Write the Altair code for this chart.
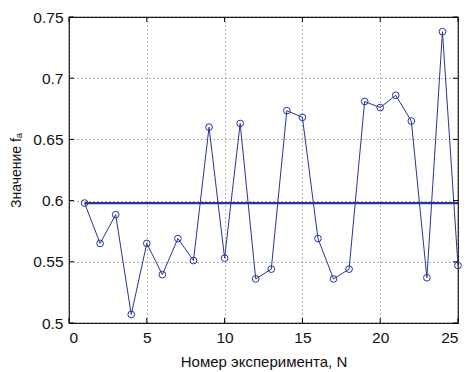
import altair as alt
import pandas as pd

n = list(range(1, 26))
fa = [0.598, 0.565, 0.5885, 0.507, 0.565, 0.5395, 0.569, 0.551, 0.660, 0.553,
      0.663, 0.536, 0.544, 0.6735, 0.668, 0.569, 0.536, 0.544, 0.681, 0.676,
      0.686, 0.665, 0.537, 0.738, 0.547]
mean_val = 0.598
x_ticks = [0, 5, 10, 15, 20, 25]
y_ticks = [0.5, 0.55, 0.6, 0.65, 0.7, 0.75]

W, H = 389, 306
COL = "#27359b"
FONT = "Liberation Sans"

df = pd.DataFrame({"n": n, "fa": fa})
mean_df = pd.DataFrame({"n": [1, 25], "fa": [mean_val, mean_val]})
xt = pd.DataFrame({"v": x_ticks})
yt = pd.DataFrame({"v": y_ticks})

xs = alt.Scale(domain=[0, 25], nice=False)
ys = alt.Scale(domain=[0.5, 0.75], nice=False)

base = alt.Chart(df)

line = base.mark_line(color=COL, strokeWidth=1).encode(
    x=alt.X("n:Q", scale=xs, axis=alt.Axis(values=x_ticks, title="Номер эксперимента, N",
                                           grid=True, gridDash=[1, 3], gridColor="#666",
                                           ticks=False, domain=False, labelPadding=7,
                                           titlePadding=9, titleFontSize=15)),
    y=alt.Y("fa:Q", scale=ys, axis=alt.Axis(values=y_ticks, title="Значение fₐ", format="~g",
                                            grid=True, gridDash=[1, 3], gridColor="#666",
                                            ticks=False, domain=False, labelPadding=6,
                                            titlePadding=9, titleFontSize=14)),
)
pts = base.mark_point(shape="circle", filled=False, color=COL, size=45, strokeWidth=1, opacity=1).encode(
    x=alt.X("n:Q", scale=xs), y=alt.Y("fa:Q", scale=ys))
mean = alt.Chart(mean_df).mark_line(color=COL, strokeWidth=2.2).encode(
    x=alt.X("n:Q", scale=xs), y=alt.Y("fa:Q", scale=ys))

tk = 5
xb = alt.Chart(xt).mark_rule(color="black").encode(x=alt.X("v:Q", scale=xs), y=alt.value(H), y2=alt.value(H - tk))
xtp = alt.Chart(xt).mark_rule(color="black").encode(x=alt.X("v:Q", scale=xs), y=alt.value(0), y2=alt.value(tk))
yl = alt.Chart(yt).mark_rule(color="black").encode(y=alt.Y("v:Q", scale=ys), x=alt.value(0), x2=alt.value(tk))
yr = alt.Chart(yt).mark_rule(color="black").encode(y=alt.Y("v:Q", scale=ys), x=alt.value(W), x2=alt.value(W - tk))

chart = alt.layer(line, mean, pts, xb, xtp, yl, yr).properties(
    width=W, height=H,
    autosize=alt.AutoSizeParams(type="none"),
    padding={"left": 69, "top": 17, "right": 11, "bottom": 49},
    background="white",
).configure_view(stroke="black", strokeWidth=1.2).configure_axis(
    labelFont=FONT, titleFont=FONT, labelFontSize=15.5,
    labelColor="#111", titleColor="#111", titleFontWeight="normal",
)

chart.save("out.html", embed_options={"renderer": "svg", "actions": False})
